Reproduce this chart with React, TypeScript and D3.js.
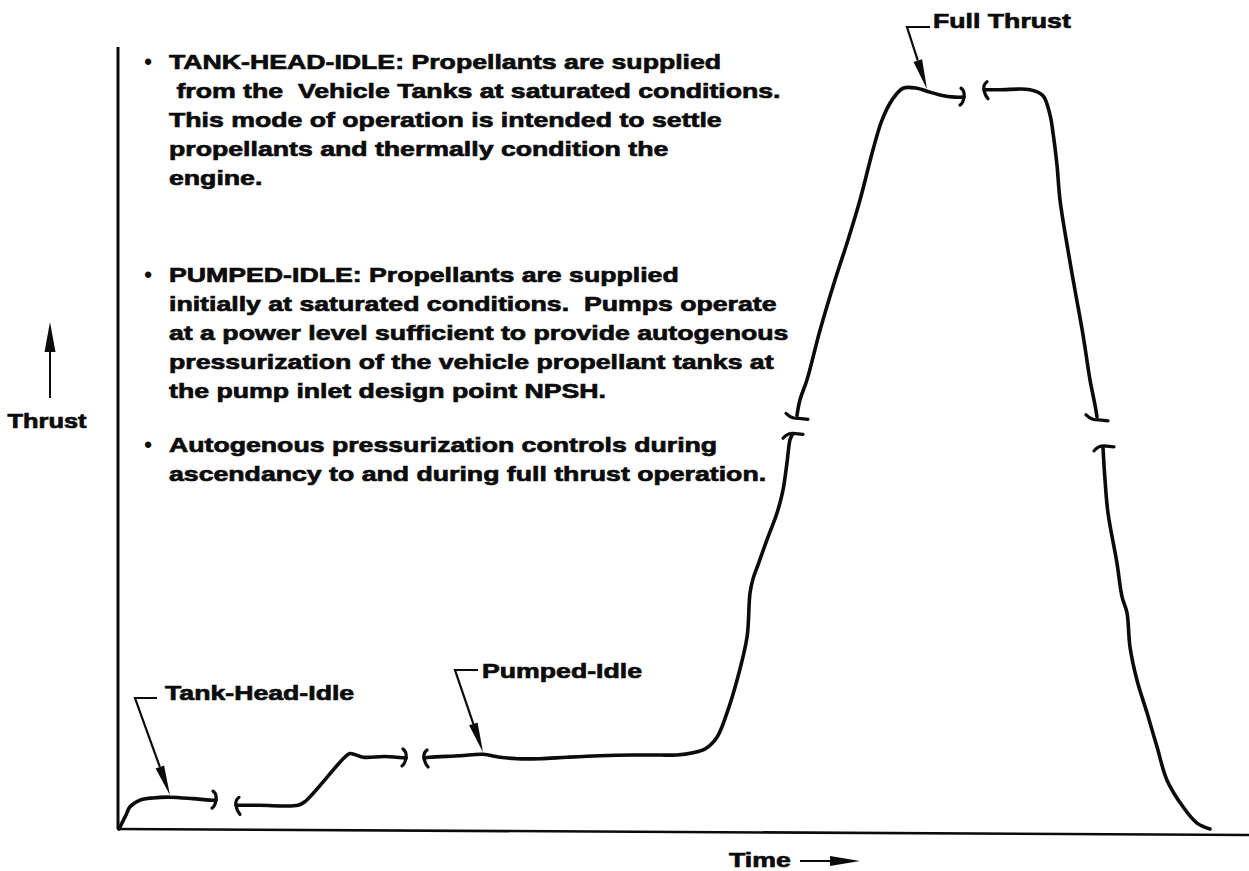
import React from 'react';
import * as d3 from 'd3';

// time (arbitrary units) vs thrust (% of full thrust)
const tankHeadIdle = [[0, 0], [0.7, 1.9], [1.1, 3.0], [2.1, 3.9], [3.4, 4.2], [5.1, 4.3], [7.4, 4.1], [9.1, 3.9], [9.7, 3.9]];
const idleStep = [[11.7, 3.2], [14.1, 3.2], [17.9, 3.2], [18.6, 3.7], [22.5, 9.6], [23.1, 10.2], [24.4, 9.7], [26.6, 9.8], [28.7, 9.6]];
const pumpedIdleRise = [[30.5, 9.6], [31.1, 9.7], [34.1, 9.9], [36.4, 10.1], [38.1, 9.7], [39.8, 9.5], [42.1, 9.5], [44.8, 9.7], [48.1, 9.9], [51.4, 10.0], [54.1, 10.0], [55.8, 10.0], [57.4, 10.3], [58.6, 10.8], [59.8, 12.4], [60.8, 15.7], [61.8, 20.1], [62.8, 25.9], [63.1, 31.9], [63.4, 33.8], [63.9, 35.7], [64.8, 39.1], [65.8, 42.7], [66.4, 45.8], [66.8, 49.5], [67.1, 52.6], [67.3, 53.2]];
const riseToFull = [[67.8, 55.9], [68.1, 58.0], [68.8, 60.7], [70.1, 67.4], [71.6, 74.2], [72.9, 79.6], [74.1, 85.0], [75.4, 91.8], [76.3, 95.8], [77.3, 98.5], [78.4, 100.1], [79.8, 100.1], [80.8, 99.7], [82.1, 99.2], [83.6, 98.9], [84.5, 98.9]];
const fullThrust = [[86.5, 99.9], [88.1, 99.9], [91.1, 99.9], [92.4, 99.1], [93.1, 96.5], [93.4, 94.1], [93.8, 89.7], [94.1, 85.0], [94.9, 78.2], [95.6, 72.8], [96.4, 66.8], [97.1, 60.7], [97.6, 57.3], [97.8, 55.7]];
const shutdown = [[98.4, 51.5], [98.6, 47.2], [98.9, 42.7], [99.8, 35.9], [100.3, 31.4], [100.8, 29.2], [101.1, 24.6], [101.8, 20.1], [102.8, 15.7], [103.8, 11.1], [104.8, 6.6], [106.4, 3.0], [107.8, 0.8], [109.1, 0]];

const segments = [tankHeadIdle, idleStep, pumpedIdleRise, riseToFull, fullThrust, shutdown];

// break marks: [segment, which end, kind]
const breakMarks = [
  [0, 'end', 'right'], [1, 'start', 'left'],
  [1, 'end', 'right'], [2, 'start', 'left'],
  [2, 'end', 'lowTop'], [3, 'start', 'highBottom'],
  [3, 'end', 'right'], [4, 'start', 'left'],
  [4, 'end', 'highBottom'], [5, 'start', 'lowTop'],
];

const calloutLabels = ['Tank-Head-Idle', 'Pumped-Idle', 'Full Thrust'];
const calloutTargets = [[5.1, 4.3], [36.4, 10.1], [80.8, 99.7]];

const tankHeadText = [
  'TANK-HEAD-IDLE: Propellants are supplied',
  ' from the  Vehicle Tanks at saturated conditions.',
  'This mode of operation is intended to settle',
  'propellants and thermally condition the',
  'engine.',
];
const pumpedIdleText = [
  'PUMPED-IDLE: Propellants are supplied',
  'initially at saturated conditions.  Pumps operate',
  'at a power level sufficient to provide autogenous',
  'pressurization of the vehicle propellant tanks at',
  'the pump inlet design point NPSH.',
];
const autogenousText = [
  'Autogenous pressurization controls during',
  'ascendancy to and during full thrust operation.',
];

const W = 1249;
const H = 871;
const FONT = '"Liberation Sans", Arial, Helvetica, sans-serif';
const STRETCH = 1.27;
const INK = '#0b0b0b';

const x = d3.scaleLinear().domain([0, 113]).range([119, 1249]);
const y = d3.scaleLinear().domain([0, 100]).range([829, 89]);

const line = d3.line()
  .x(d => x(d[0]))
  .y(d => y(d[1]))
  .curve(d3.curveCatmullRom.alpha(0.5));

// little hand-drawn break symbols at the ends of the trace pieces
function tickPath(px, py, kind) {
  if (kind === 'right') return `M${px - 3},${py - 9} Q${px + 1},${py - 6} ${px},${py} Q${px - 1},${py + 6} ${px - 4},${py + 8}`;
  if (kind === 'left') return `M${px + 3},${py - 8} Q${px - 1},${py - 5} ${px},${py} Q${px + 1},${py + 6} ${px + 4},${py + 9}`;
  if (kind === 'lowTop') return `M${px - 9},${py + 3} C${px - 6},${py - 1} ${px - 3},${py - 2} ${px + 1},${py - 2} L${px + 11},${py - 1}`;
  return `M${px - 11},${py - 2} C${px - 6},${py + 3} ${px - 2},${py + 3} ${px + 2},${py + 3} L${px + 11},${py + 4}`;
}

function Label({ tx, ty, children, anchor = 'start', size = 21 }) {
  return (
    <text
      transform={`translate(${tx},${ty}) scale(${STRETCH},1)`}
      textAnchor={anchor}
      fontFamily={FONT}
      fontWeight="bold"
      fontSize={size}
      fill={INK}
      stroke={INK}
      strokeWidth={0.7}
      style={{ whiteSpace: 'pre' }}
    >
      {children}
    </text>
  );
}

function Paragraph({ lines, top }) {
  return (
    <g>
      <text x={148} y={top} textAnchor="middle" fontFamily={FONT} fontWeight="bold" fontSize={22} fill={INK}>•</text>
      {lines.map((l, i) => (
        <Label key={i} tx={169} ty={top + i * 29}>{l}</Label>
      ))}
    </g>
  );
}

// callout layout: elbow of the leader, end of its short bar, label anchor
const calloutLayout = [
  { elbow: [135, 698], bar: 157, text: [165, 700] },
  { elbow: [455, 670], bar: 478, text: [482, 678] },
  { elbow: [907, 27], bar: 930, text: [933, 28] },
];

function Callout({ i }) {
  const lay = calloutLayout[i];
  const [ex, ey] = lay.elbow;
  const tx = x(calloutTargets[i][0]);
  const ty = y(calloutTargets[i][1]) - 2;
  const dx = tx - ex, dy = ty - ey;
  const len = Math.hypot(dx, dy);
  const ux = dx / len, uy = dy / len;
  const hl = 30, hw = 4.5;
  const bx = tx - ux * hl, by = ty - uy * hl;
  const head = `M${tx},${ty} L${bx - uy * hw},${by + ux * hw} L${bx + uy * hw},${by - ux * hw} Z`;
  return (
    <g>
      <path d={`M${lay.bar},${ey} L${ex},${ey} L${bx},${by}`} fill="none" stroke={INK} strokeWidth={2.2} />
      <path d={head} fill={INK} />
      <Label tx={lay.text[0]} ty={lay.text[1]}>{calloutLabels[i]}</Label>
    </g>
  );
}

export default function App() {
  return (
    <svg width={W} height={H} style={{ position: 'absolute', left: 0, top: 0, background: '#fff' }}>
      <rect width={W} height={H} fill="#fff" />

      {/* axes */}
      <line x1={118} x2={118} y1={47} y2={y(0)} stroke={INK} strokeWidth={3} />
      <line x1={117} x2={W} y1={y(0)} y2={y(0) + 6} stroke={INK} strokeWidth={2.6} />

      {/* Thrust axis title with arrow */}
      <line x1={50} x2={50} y1={350} y2={398} stroke={INK} strokeWidth={2} />
      <path d="M50,322 L44.5,352 L55.5,352 Z" fill={INK} />
      <Label tx={47} ty={428} anchor="middle" size={20}>Thrust</Label>

      {/* Time axis title with arrow */}
      <Label tx={729} ty={867}>Time</Label>
      <line x1={800} x2={834} y1={861} y2={861} stroke={INK} strokeWidth={2} />
      <path d="M860,861 L830,856 L830,866 Z" fill={INK} />

      {/* explanatory notes */}
      <Paragraph lines={tankHeadText} top={69} />
      <Paragraph lines={pumpedIdleText} top={282} />
      <Paragraph lines={autogenousText} top={452} />

      {/* thrust trace */}
      {segments.map((s, i) => (
        <path key={i} d={line(s)} fill="none" stroke={INK} strokeWidth={3.6} strokeLinecap="round" strokeLinejoin="round" />
      ))}
      {breakMarks.map(([si, at, kind], i) => {
        const seg = segments[si];
        const p = at === 'end' ? seg[seg.length - 1] : seg[0];
        return (
          <path key={i} d={tickPath(x(p[0]), y(p[1]), kind)} fill="none" stroke={INK} strokeWidth={3.2} strokeLinecap="round" strokeLinejoin="round" />
        );
      })}

      {calloutLabels.map((_, i) => <Callout key={i} i={i} />)}
    </svg>
  );
}
